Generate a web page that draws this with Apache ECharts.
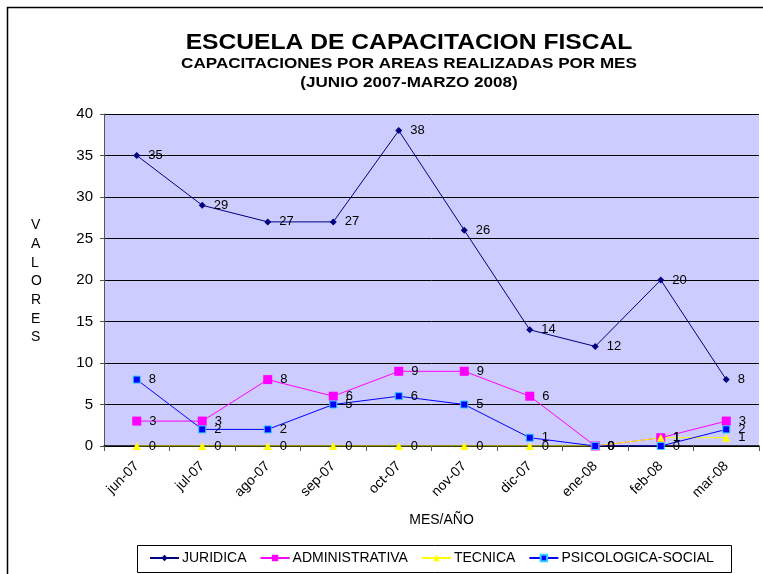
<!DOCTYPE html>
<html>
<head>
<meta charset="utf-8">
<script src="https://cdn.jsdelivr.net/npm/echarts@6/dist/echarts.min.js"></script>
<style>
  html, body { margin: 0; padding: 0; background: #fff; }
  #chart { width: 763px; height: 574px; }
</style>
</head>
<body>
<div id="chart"></div>
<script>
const meses = ['jun-07', 'jul-07', 'ago-07', 'sep-07', 'oct-07', 'nov-07', 'dic-07', 'ene-08', 'feb-08', 'mar-08']
const juridica = [35, 29, 27, 27, 38, 26, 14, 12, 20, 8]
const administrativa = [3, 3, 8, 6, 9, 9, 6, 0, 1, 3]
const tecnica = [0, 0, 0, 0, 0, 0, 0, 0, 1, 1]
const psicologica = [8, 2, 2, 5, 6, 5, 1, 0, 0, 2]

const font = 'Liberation Sans, Arial, sans-serif'

const chart = echarts.init(document.getElementById('chart'))

function linea(name, data, color, symbol, size, extra) {
  return Object.assign({
    name: name,
    type: 'line',
    data: data,
    symbol: symbol,
    symbolSize: size,
    lineStyle: { color: color, width: 1 },
    itemStyle: { color: color },
    label: {
      show: true,
      position: 'right',
      distance: 8,
      color: '#000',
      fontFamily: font,
      fontSize: 13
    },
    animation: false
  }, extra || {})
}

// titulo algo ensanchado, como en el original
function titulo(text, y, size, sx) {
  return {
    type: 'text', x: 409, y: y, scaleX: sx,
    style: {
      text: text, fontFamily: font, fontSize: size, fontWeight: 'bold',
      fill: '#000', align: 'center', verticalAlign: 'middle'
    }
  }
}

chart.setOption({
  backgroundColor: '#fff',
  legend: {
    left: 149, top: 551, padding: 0, itemGap: 13, itemWidth: 29, itemHeight: 8,
    textStyle: { fontFamily: font, fontSize: 14, color: '#000', padding: [0, 0, 0, -2] },
    data: ['JURIDICA', 'ADMINISTRATIVA', 'TECNICA', 'PSICOLOGICA-SOCIAL']
  },
  grid: { left: 104, right: 4, top: 114, bottom: 128, show: true, backgroundColor: '#CCCCFF', borderWidth: 0 },
  xAxis: {
    type: 'category',
    data: meses,
    boundaryGap: true,
    name: 'MES/AÑO',
    nameLocation: 'middle',
    nameGap: 67,
    nameTextStyle: { fontFamily: font, fontSize: 14, color: '#000', padding: [0, 0, 0, 20] },
    axisLine: { lineStyle: { color: '#000', width: 1.5 } },
    axisTick: { show: true, inside: false, length: 5, lineStyle: { color: '#555' } },
    axisLabel: { rotate: 45, fontFamily: font, fontSize: 14, color: '#000', margin: 18 }
  },
  yAxis: {
    type: 'value',
    min: 0, max: 40, interval: 5,
    axisLine: { show: true, lineStyle: { color: '#555' } },
    axisTick: { show: true, length: 4, lineStyle: { color: '#555' } },
    axisLabel: { fontFamily: font, fontSize: 15, color: '#000', margin: 11 },
    splitLine: { lineStyle: { color: '#000', width: 1 } }
  },
  graphic: [
    {
      type: 'rect', left: 5, top: 5, z: -1,
      shape: { width: 800, height: 800 },
      style: { fill: 'none', stroke: '#000', lineWidth: 1.5 }
    },
    {
      type: 'rect', left: 135, top: 543,
      shape: { width: 594, height: 27 },
      style: { fill: 'none', stroke: '#000', lineWidth: 1 }
    },
    {
      type: 'text', left: 31, top: 216,
      style: {
        text: 'V\nA\nL\nO\nR\nE\nS',
        fontFamily: font, fontSize: 14, fill: '#000', lineHeight: 18.7, align: 'center'
      }
    },
    titulo('ESCUELA DE CAPACITACION FISCAL', 43, 22, 1.12),
    titulo('CAPACITACIONES POR AREAS REALIZADAS POR MES', 64, 14, 1.22),
    titulo('(JUNIO 2007-MARZO 2008)', 83, 14, 1.22)
  ],
  series: [
    linea('JURIDICA', juridica, '#000080', 'diamond', 7),
    linea('ADMINISTRATIVA', administrativa, '#FF00FF', 'rect', 9),
    linea('TECNICA', tecnica, '#FFFF00', 'triangle', 8),
    linea('PSICOLOGICA-SOCIAL', psicologica, '#0000FF', 'rect', 7,
      { itemStyle: { color: '#0000FF', borderColor: '#33CCFF', borderWidth: 1 } })
  ]
})
</script>
</body>
</html>
